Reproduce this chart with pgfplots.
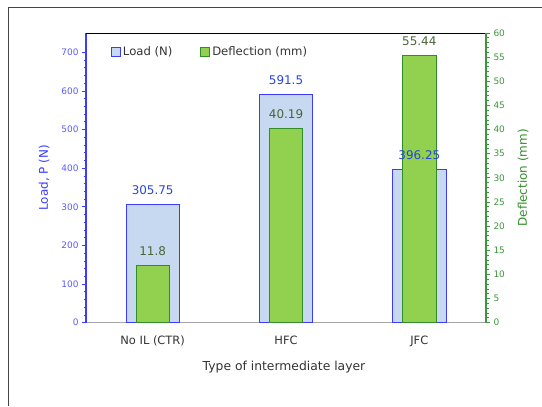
\documentclass[border=0pt]{standalone}
\usepackage{fontspec}
\setmainfont{DejaVu Sans}
\usepackage{pgfplots}
\usepackage{pgfplotstable}
\pgfplotsset{compat=1.18}
\definecolor{loadfill}{RGB}{198,217,241}
\definecolor{loadline}{RGB}{60,60,255}
\definecolor{loadtick}{RGB}{90,90,255}
\definecolor{loadlab}{RGB}{40,70,220}
\definecolor{deffill}{RGB}{146,208,80}
\definecolor{defline}{RGB}{50,140,40}
\definecolor{deftick}{RGB}{60,150,60}
\definecolor{deflab}{RGB}{75,100,55}
\definecolor{framec}{RGB}{70,70,70}
\definecolor{botline}{RGB}{165,165,165}

\pgfplotstableread{
x load
0 305.75
1 591.5
2 396.25
}\loadtab
\pgfplotstableread{
x defl
0 11.8
1 40.19
2 55.44
}\deftab

\begin{document}
\begin{tikzpicture}[x=1bp,y=1bp]
\useasboundingbox (0,0) rectangle (542,406);
\draw[framec, line width=1bp] (8.5,0) -- (8.5,398.5) -- (542,398.5);
\pgfplotsset{base/.style={at={(86bp,83.3bp)}, anchor=south west, width=400bp, height=289.7bp, scale only axis, xmin=-0.5, xmax=2.5, /pgf/number format/assume math mode=true}}
\begin{axis}[base, ymin=0, ymax=750,
  axis y line*=left, axis x line*=bottom,
  x axis line style={draw=botline, line width=1.5bp, -},
  y axis line style={draw=loadline, line width=1.2bp, -},
  xtick={0,1,2}, xticklabels={No IL (CTR),HFC,JFC},
  x tick style={draw=none},
  ytick={0,100,...,700}, minor y tick num=4,
  y tick style={draw=loadline, line width=0.8bp},
  tick align=outside, major tick length=4bp, minor tick length=2.5bp,
  yticklabel style={font=\fontsize{9}{10}\selectfont, text=loadtick},
  xticklabel style={font=\fontsize{11.5}{13}\selectfont, text=black!80, yshift=-6bp},
  ylabel={Load, P (N)},
  ylabel style={at={(axis description cs:-0.105,0.5)}, anchor=center, font=\fontsize{12}{14}\selectfont, text=loadline},
  xlabel={Type of intermediate layer},
  xlabel style={at={(axis description cs:0.495,-0.153)}, anchor=center, font=\fontsize{12.4}{14}\selectfont, text=black!80},
]
\addplot[ybar, bar width=0.4, bar shift=0pt, fill=loadfill, draw=loadline, line width=0.9bp] table[x=x,y=load]{\loadtab};
\end{axis}
\draw[black, line width=1bp] (86,372.7) -- (486,372.7);
\begin{axis}[base, ymin=0, ymax=60,
  axis y line*=right, axis x line=none,
  y axis line style={draw=deftick, line width=1.2bp, -},
  ytick={0,5,...,60}, minor y tick num=4,
  y tick style={draw=deftick, line width=0.8bp},
  tick align=outside, major tick length=4bp, minor tick length=2.5bp,
  yticklabel style={font=\fontsize{9}{10}\selectfont, text=deftick},
  ylabel={Deflection (mm)},
  ylabel style={at={(axis description cs:1.0925,0.5)}, anchor=center, font=\fontsize{12}{14}\selectfont, text=defline},
  legend style={at={(axis description cs:0.055,0.934)}, anchor=west, draw=none, fill=none, font=\fontsize{11.7}{13}\selectfont, text=black!80, /tikz/every even column/.append style={column sep=26bp}},
  legend columns=2, legend cell align=left,
]
\addlegendimage{legend image code/.code={\draw[fill=loadfill,draw=loadline,line width=0.8bp] (0bp,-4.5bp) rectangle (9bp,4.5bp);}}
\addlegendentry{Load (N)}
\addplot[ybar, bar width=0.25, bar shift=0pt, fill=deffill, draw=defline, line width=0.9bp, forget plot,
  nodes near coords, nodes near coords style={font=\fontsize{12}{14}\selectfont, text=deflab, anchor=south, yshift=6bp}] table[x=x,y=defl]{\deftab};
\addlegendimage{legend image code/.code={\draw[fill=deffill,draw=defline,line width=0.8bp] (0bp,-4.5bp) rectangle (9bp,4.5bp);}}
\addlegendentry{Deflection (mm)}
\end{axis}
\begin{axis}[base, ymin=0, ymax=750, hide axis]
\addplot[draw=none, nodes near coords, nodes near coords style={font=\fontsize{12}{14}\selectfont, text=loadlab, anchor=south, yshift=6bp}] table[x=x,y=load]{\loadtab};
\end{axis}
\end{tikzpicture}
\end{document}
